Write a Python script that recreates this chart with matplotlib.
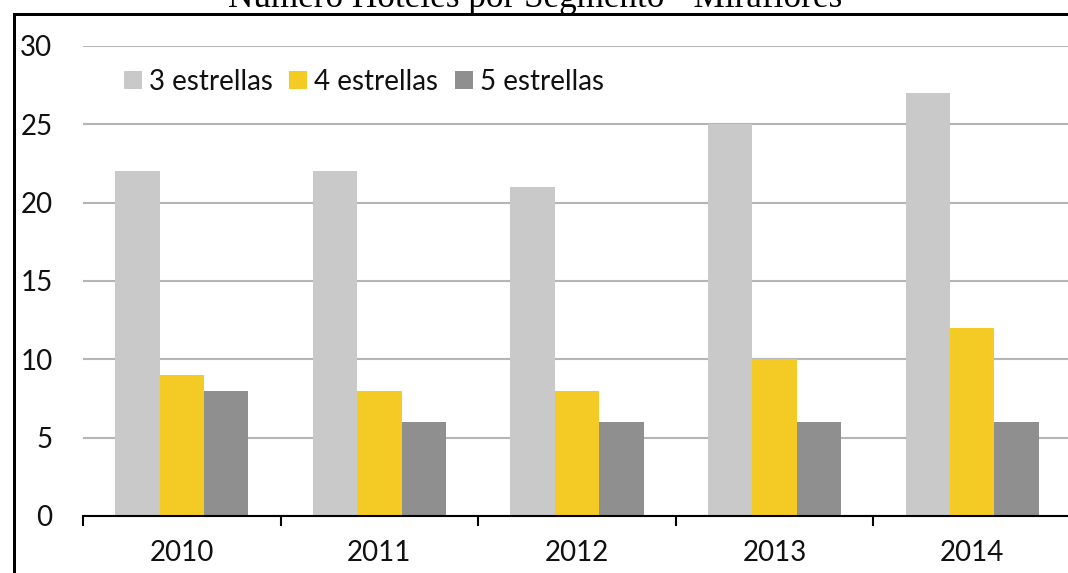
import matplotlib.pyplot as plt
import numpy as np
from matplotlib.patches import Rectangle

years = ["2010", "2011", "2012", "2013", "2014"]
tres_estrellas = [22, 22, 21, 25, 27]
cuatro_estrellas = [9, 8, 8, 10, 12]
cinco_estrellas = [8, 6, 6, 6, 6]

series = [
    ("3 estrellas", tres_estrellas, "#c9c9c9"),
    ("4 estrellas", cuatro_estrellas, "#f4cb24"),
    ("5 estrellas", cinco_estrellas, "#8f8f8f"),
]

plt.rcParams['font.family'] = ['Lato', 'DejaVu Sans']

W, H = 1068, 573
fig = plt.figure(figsize=(W / 100, H / 100), dpi=100)
ax = fig.add_axes([83 / W, 1 - 516 / H, 988 / W, 470 / H])

x = np.arange(len(years))
w = 0.225
for i, (name, vals, color) in enumerate(series):
    ax.bar(x + (i - 1) * w, vals, w, color=color, label=name, zorder=3)

ax.set_xlim(-0.5, len(years) - 0.5)
ax.set_ylim(0, 30)
ax.set_yticks(range(0, 31, 5))
ax.yaxis.grid(True, color="#b5b5b5", linewidth=1.5, zorder=0)
ax.set_axisbelow(True)

for side in ["top", "right", "left"]:
    ax.spines[side].set_visible(False)
ax.spines["bottom"].set_linewidth(1.5)
ax.spines["bottom"].set_zorder(4)

ax.set_xticks(x)
ax.set_xticklabels(years, fontsize=20, color="#111111")
ax.set_xticks(np.arange(-0.5, len(years)), minor=True)
ax.tick_params(axis="x", which="major", length=0, pad=17)
ax.tick_params(axis="x", which="minor", length=7, width=1.5, direction="out")
ax.tick_params(axis="y", length=0, pad=22, labelsize=20, labelcolor="#111111")

leg = ax.legend(loc="upper left", bbox_to_anchor=(0.03, 0.975), ncol=3,
                frameon=False, fontsize=20, handlelength=0.65,
                handleheight=0.65, handletextpad=0.25, columnspacing=0.6,
                borderaxespad=0)
for t in leg.get_texts():
    t.set_color("#111111")

# outer frame: two solid strips for the left and top edges
fig.patches.append(Rectangle((13 / W, 0), 3 / W, 1 - 13 / H,
                             transform=fig.transFigure, facecolor="black",
                             edgecolor="none", linewidth=0))
fig.patches.append(Rectangle((13 / W, 1 - 16 / H), 1 - 13 / W, 3 / H,
                             transform=fig.transFigure, facecolor="black",
                             edgecolor="none", linewidth=0))

fig.text(535 / W, 1 - 7 / H, "Número Hoteles por Segmento - Miraflores",
         ha="center", va="baseline", fontsize=25.3,
         family=["Liberation Serif", "DejaVu Serif"], color="black")

fig.savefig("out.png", dpi=100)
